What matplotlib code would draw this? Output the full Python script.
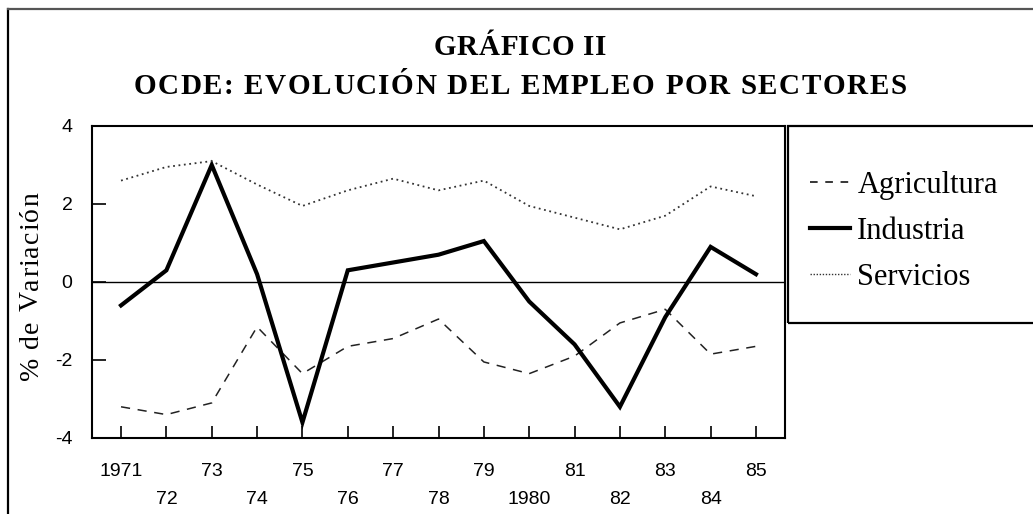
import matplotlib
matplotlib.use("Agg")
import matplotlib.pyplot as plt
from matplotlib import font_manager as fm
from matplotlib.ft2font import FT2Font
from matplotlib.lines import Line2D
from matplotlib.patches import Rectangle

# ---- data ----
years = list(range(1971, 1986))
agricultura = [-3.2, -3.4, -3.1, -1.15, -2.35, -1.65, -1.45, -0.95, -2.05, -2.35, -1.9, -1.05, -0.7, -1.85, -1.65]
industria = [-0.6, 0.3, 3.0, 0.2, -3.6, 0.3, 0.5, 0.7, 1.05, -0.5, -1.6, -3.2, -0.9, 0.9, 0.2]
servicios = [2.6, 2.95, 3.1, 2.5, 1.95, 2.35, 2.65, 2.35, 2.6, 1.95, 1.65, 1.35, 1.7, 2.45, 2.2]
odd_years = [1971, 1973, 1975, 1977, 1979, 1981, 1983, 1985]
odd_labels = ["1971", "73", "75", "77", "79", "81", "83", "85"]
even_years = [1972, 1974, 1976, 1978, 1980, 1982, 1984]
even_labels = ["72", "74", "76", "78", "1980", "82", "84"]
yticks = [-4, -2, 0, 2, 4]
title1 = "GRÁFICO II"
title2 = "OCDE: EVOLUCIÓN DEL EMPLEO POR SECTORES"
ylabel = "% de Variación"
legend_labels = ["Agricultura", "Industria", "Servicios"]

W, H = 1033, 514
fig = plt.figure(figsize=(W / 100, H / 100), dpi=100)
SANS = "Liberation Sans"
SERIF = "Liberation Serif"


def px(x, y):
    return x / W, 1 - y / H


def spaced(x, y, s, size, spacing, weight="normal", rotation=0, color="black"):
    """Draw letter-spaced text centred at pixel x (or y when rotated), baseline at given pixel."""
    path = fm.findfont(fm.FontProperties(family=SERIF, weight=weight))
    f = FT2Font(path)
    f.set_size(size, fig.dpi)
    advs = [f.load_char(ord(c)).linearHoriAdvance / 65536 for c in s]
    total = sum(advs) + spacing * (len(s) - 1)
    pos = -total / 2
    for c, a in zip(s, advs):
        if rotation == 0:
            fx, fy = px(x + pos, y)
        else:
            fx, fy = px(x, y - pos)
        fig.text(fx, fy, c, fontsize=size, family=SERIF, weight=weight,
                 rotation=rotation, rotation_mode="anchor",
                 ha="left", va="baseline", color=color)
        pos += a + spacing


# ---- axes ----
ax = fig.add_axes([92 / W, 1 - 438 / H, 693 / W, 312 / H])
ax.plot(years, agricultura, color="#222222", lw=1.1, dashes=(6, 5))
ax.plot(years, industria, color="black", lw=3.0, solid_joinstyle="miter")
ax.plot(years, servicios, color="#333333", lw=1.3, dashes=(1, 2.0))
ax.axhline(0, color="black", lw=1.0)

ax.set_xlim(1970.36, 1985.64)
ax.set_ylim(-4, 4)
ax.set_yticks(yticks)
ax.set_yticklabels([str(v) for v in yticks])
ax.set_xticks(odd_years)
ax.set_xticklabels(odd_labels)
ax.set_xticks(even_years, minor=True)
ax.set_xticklabels(even_labels, minor=True)
ax.tick_params(axis="x", which="major", direction="in", length=9, width=1.2,
               pad=18, labelsize=14, top=False)
ax.tick_params(axis="x", which="minor", direction="in", length=9, width=1.2,
               pad=38, labelsize=14, top=False)
ax.tick_params(axis="y", direction="in", length=10, width=1.2, pad=14,
               labelsize=14, right=False)
for lab in ax.get_xticklabels(which="both") + ax.get_yticklabels():
    lab.set_family(SANS)
for sp in ax.spines.values():
    sp.set_linewidth(1.5)

# ---- legend ----
handles = [
    Line2D([], [], color="black", lw=1.1, dashes=(5, 5)),
    Line2D([], [], color="black", lw=3.0),
    Line2D([], [], color="#333333", lw=1.0, dashes=(1, 1.2)),
]
leg = fig.legend(handles, legend_labels, loc="upper left",
                 bbox_to_anchor=px(810, 171), frameon=False,
                 prop={"family": SERIF, "size": 22},
                 handlelength=1.3, handletextpad=0.25, labelspacing=0.55,
                 borderpad=0, borderaxespad=0)

fig.add_artist(Rectangle(px(788, 323), (1040 - 788) / W, (323 - 126) / H,
                         transform=fig.transFigure, fill=False,
                         edgecolor="black", lw=1.6, clip_on=False))

# ---- outer frame ----
fig.add_artist(Line2D([8 / W, 8 / W], [0, 1 - 9 / H], transform=fig.transFigure,
                      color="black", lw=1.6))
fig.add_artist(Line2D([8 / W, 1], [1 - 9 / H, 1 - 9 / H], transform=fig.transFigure,
                      color="#555555", lw=1.6))

# ---- titles ----
spaced(520, 55, title1, 21, 0.6, weight="bold")
spaced(520, 94, title2, 21, 1.6, weight="bold")
spaced(38, 286, ylabel, 20, 1.2, rotation=90)

fig.savefig("out.png", dpi=100)
